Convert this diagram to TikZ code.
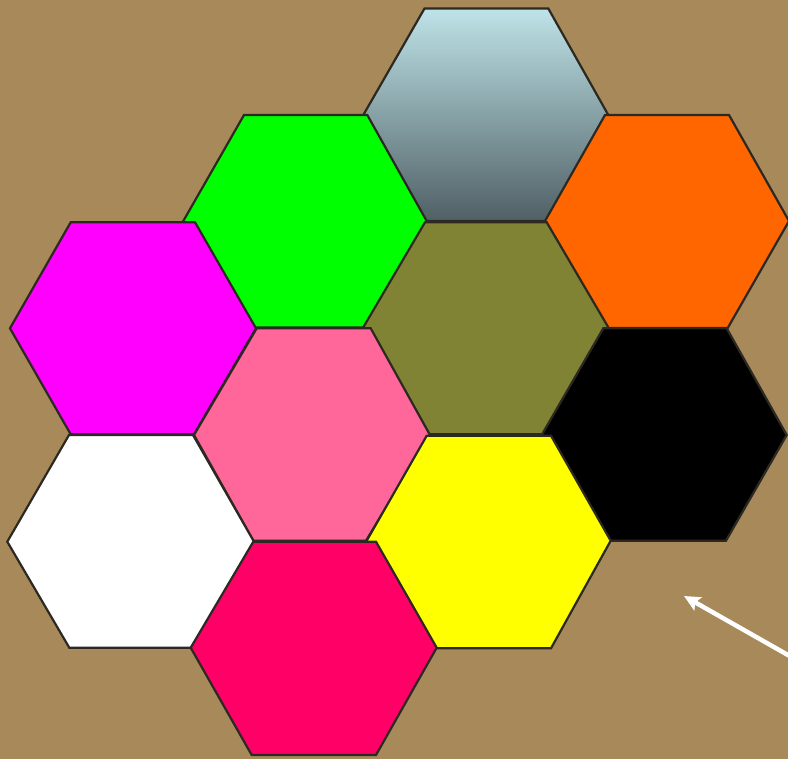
\documentclass[tikz,border=0pt]{standalone}
\usetikzlibrary{arrows.meta}
\definecolor{bgbrown}{RGB}{167,137,90}
\definecolor{hexedge}{RGB}{44,41,34}
\definecolor{skytop}{RGB}{190,227,232}
\definecolor{skybot}{RGB}{80,96,101}
\definecolor{hgreen}{RGB}{0,255,0}
\definecolor{horange}{RGB}{255,102,0}
\definecolor{hmagenta}{RGB}{255,0,255}
\definecolor{holive}{RGB}{128,131,51}
\definecolor{hpink}{RGB}{255,102,153}
\definecolor{hyellow}{RGB}{255,255,0}
\definecolor{hred}{RGB}{255,0,102}
\tikzset{
  hexline/.style={draw=hexedge, line width=2.2pt, line join=miter},
  arrowline/.style={draw=white, line width=4.5pt, -{Stealth[length=16pt,width=15pt,inset=3pt]}}
}
\begin{document}
\begin{tikzpicture}[x=1pt,y=-1pt]
\clip (0,0) rectangle (788,759);
\fill[bgbrown] (0,0) rectangle (788,759);
% row 1
\draw[hexline, top color=skytop, bottom color=skybot]
  (424.5,8.5) -- (548.3,8.5) -- (608.3,115) -- (547,221) -- (425.5,221) -- (363.3,115) -- cycle;
% row 2
\draw[hexline, fill=hgreen]
  (244,115) -- (367.3,115) -- (426.7,221) -- (366,327.5) -- (244,327.5) -- (183.3,221) -- cycle;
\draw[hexline, fill=horange]
  (605,115) -- (729,115) -- (789,221) -- (727.7,328) -- (606,328) -- (545,221) -- cycle;
% row 3
\draw[hexline, fill=hmagenta]
  (70.7,222.3) -- (195,222.3) -- (256,328.3) -- (194,434.3) -- (70.7,434.3) -- (10,328.3) -- cycle;
\draw[hexline, fill=holive]
  (425,222.3) -- (546.7,222.3) -- (608.3,327.3) -- (547,434.3) -- (425,434.3) -- (363.3,327.3) -- cycle;
% row 4
\draw[hexline, fill=hpink]
  (256.7,328.3) -- (370.7,328.3) -- (430,435) -- (366,540.7) -- (253.3,540.7) -- (194,435) -- cycle;
\draw[hexline, fill=black]
  (603.3,328.3) -- (726.7,328.3) -- (786.7,435) -- (726,540.7) -- (603,540.7) -- (541.7,435) -- cycle;
% row 5
\draw[hexline, fill=white]
  (69,435) -- (193,435) -- (254,541.7) -- (192,647.7) -- (69.3,647.7) -- (7.3,541.7) -- cycle;
\draw[hexline, fill=hyellow]
  (426.7,435.7) -- (551,435.7) -- (610.7,540.7) -- (551,648.3) -- (428,648.3) -- (366.7,540.7) -- cycle;
% row 6
\draw[hexline, fill=hred]
  (253.3,541.7) -- (376,541.7) -- (436.7,647.7) -- (376,755) -- (251.7,755) -- (190.7,647.7) -- cycle;
% arrow
\coordinate (arrowstart) at (802,663);
\coordinate (arrowtip) at (684,596);
\draw[arrowline] (arrowstart) -- (arrowtip);
\end{tikzpicture}
\end{document}
